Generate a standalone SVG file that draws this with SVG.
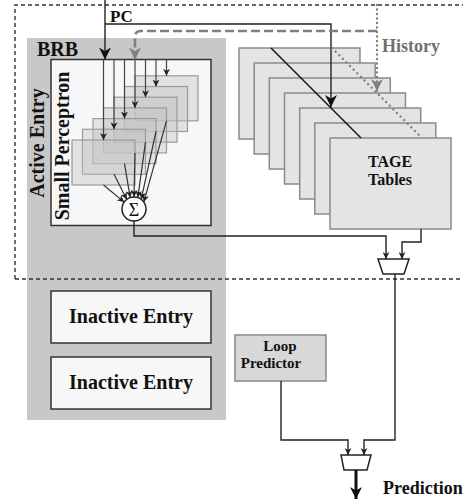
<svg xmlns="http://www.w3.org/2000/svg" width="463" height="500" viewBox="0 0 463 500">
  <style>
    .lbl { font-family: "Liberation Serif", "Times New Roman", serif; font-weight: bold; fill: #111; }
    .wire { fill: none; stroke: #222; stroke-width: 1.4; }
    .entry { fill: #f7f7f7; stroke: #333; stroke-width: 1.5; }
    .tage { fill: #e4e4e4; stroke: #8a8a8a; stroke-width: 1.5; }
    .perc { fill: #c4c4c4; fill-opacity: 0.4; stroke: #9a9a9a; stroke-width: 1.2; }
    .mux { fill: #fff; stroke: #222; stroke-width: 1.5; }
  </style>
  <defs>
    <marker id="ahBig" markerUnits="userSpaceOnUse" markerWidth="12" markerHeight="12" viewBox="0 0 12 12" refX="12" refY="6" orient="auto">
      <path d="M0,0 L12,6 L0,12 L3.5,6 z" fill="#111"/>
    </marker>
    <marker id="ahGray" markerUnits="userSpaceOnUse" markerWidth="12" markerHeight="12" viewBox="0 0 12 12" refX="12" refY="6" orient="auto">
      <path d="M0,0 L12,6 L0,12 L3.5,6 z" fill="#808080"/>
    </marker>
    <marker id="ahSmall" markerUnits="userSpaceOnUse" markerWidth="7" markerHeight="7" viewBox="0 0 7 7" refX="7" refY="3.5" orient="auto">
      <path d="M0,0 L7,3.5 L0,7 L2,3.5 z" fill="#222"/>
    </marker>
  </defs>

  <!-- branch result buffer background -->
  <g id="brb">
    <rect x="27" y="38" width="199" height="382" fill="#c8c8c8"/>
    <text class="lbl" x="37" y="56" font-size="20">BRB</text>
  </g>

  <!-- active entry: small perceptron -->
  <g id="active-entry">
    <rect class="entry" x="51" y="59.5" width="160" height="166"/>
    <text class="lbl" font-size="20" text-anchor="middle" transform="translate(44,143) rotate(-90)">Active Entry</text>
    <text class="lbl" font-size="20" text-anchor="middle" transform="translate(69,146) rotate(-90)">Small Perceptron</text>
  </g>

  <g id="perceptron-weights">
    <rect class="perc" x="135" y="75.8" width="63" height="45"/>
    <rect class="perc" x="124.5" y="86.5" width="63" height="45"/>
    <rect class="perc" x="114" y="97.2" width="63" height="45"/>
    <rect class="perc" x="103.5" y="107.9" width="63" height="45"/>
    <rect class="perc" x="93" y="118.6" width="63" height="45"/>
    <rect class="perc" x="82.5" y="129.3" width="63" height="45"/>
    <rect class="perc" x="72" y="140" width="63" height="45"/>
  </g>

  <g id="sum">
    <circle cx="134" cy="209" r="12" fill="#fff" stroke="#222" stroke-width="1.5"/>
    <text x="134" y="215.5" font-family="Liberation Serif, serif" font-size="18" text-anchor="middle" fill="#111">Σ</text>
  </g>

  <!-- TAGE tables -->
  <g id="tage">
    <rect class="tage" x="239" y="48" width="121" height="91"/>
    <rect class="tage" x="254.2" y="63" width="121" height="91"/>
    <rect class="tage" x="269.3" y="78" width="121" height="91"/>
    <rect class="tage" x="284.5" y="93" width="121" height="91"/>
    <rect class="tage" x="299.7" y="108" width="121" height="91"/>
    <rect class="tage" x="314.8" y="123" width="121" height="91"/>
    <rect class="tage" x="330" y="138" width="121" height="91"/>
    <text class="lbl" font-size="16" text-anchor="middle" x="390" y="167">TAGE</text>
    <text class="lbl" font-size="16" text-anchor="middle" x="390" y="185">Tables</text>
  </g>

  <g id="inactive-1">
    <rect class="entry" x="51" y="291" width="160" height="52"/>
    <text class="lbl" font-size="20" text-anchor="middle" x="131" y="323">Inactive Entry</text>
  </g>
  <g id="inactive-2">
    <rect class="entry" x="51" y="357" width="160" height="52"/>
    <text class="lbl" font-size="20" text-anchor="middle" x="131" y="389">Inactive Entry</text>
  </g>

  <g id="loop-predictor">
    <rect x="235" y="335" width="91" height="46" fill="#d8d8d8" stroke="#888" stroke-width="1.5"/>
    <text class="lbl" font-size="15" text-anchor="middle" x="280" y="351">Loop</text>
    <text class="lbl" font-size="15" text-anchor="middle" x="271" y="368">Predictor</text>
  </g>

  <g id="mux-tage">
    <polygon class="mux" points="378,259 409,259 404,274 383,274"/>
  </g>
  <g id="mux-final">
    <polygon class="mux" points="341,455 371,455 367,470 344,470"/>
  </g>

  <!-- prediction scope border -->
  <path d="M15,279 V5 H463 M15,279 H463" fill="none" stroke="#333" stroke-width="1.4" stroke-dasharray="4 3"/>

  <g id="connectors">
    <!-- PC -->
    <path class="wire" d="M105,0 V59.5" marker-end="url(#ahBig)"/>
    <path class="wire" d="M105,24 H331 V107" marker-end="url(#ahBig)"/>
    <text class="lbl" font-size="17" x="110" y="22">PC</text>

    <!-- global history -->
    <path d="M377,5 V91" fill="none" stroke="#808080" stroke-width="2.4" stroke-linecap="round" stroke-dasharray="0.1 4.4" marker-end="url(#ahGray)"/>
    <path d="M377,31 H141 Q135,31 135,37 V59.5" fill="none" stroke="#808080" stroke-width="2.6" stroke-dasharray="9 4" marker-end="url(#ahGray)"/>
    <text class="lbl" font-size="18" x="382" y="52" style="fill:#707070">History</text>

    <!-- table index hashes -->
    <path d="M271,48 L361,138" fill="none" stroke="#111" stroke-width="1.5"/>
    <path d="M332,48 L422,138" fill="none" stroke="#808080" stroke-width="2.4" stroke-linecap="round" stroke-dasharray="0.1 5"/>

    <!-- weight reads -->
    <g stroke="#444" stroke-width="1.2" fill="none" marker-end="url(#ahSmall)">
      <path d="M103.5,59.5 V140"/>
      <path d="M114,59.5 V129.3"/>
      <path d="M124.5,59.5 V118.6"/>
      <path d="M135,59.5 V107.9"/>
      <path d="M145.5,59.5 V97.2"/>
      <path d="M156,59.5 V86.5"/>
      <path d="M166.5,59.5 V75.8"/>
    </g>

    <!-- weights into adder -->
    <g stroke="#333" stroke-width="1.2" fill="none" marker-end="url(#ahSmall)">
      <path d="M103.5,185 L124.2,202.1"/>
      <path d="M114,174.3 L126.8,199.4"/>
      <path d="M124.5,163.6 L130.2,197.6"/>
      <path d="M135,152.9 L134,197"/>
      <path d="M145.5,142.2 L137.8,197.6"/>
      <path d="M156,131.5 L141.2,199.4"/>
      <path d="M166.5,120.8 L143.8,202.1"/>
    </g>

    <!-- into TAGE mux -->
    <path class="wire" d="M134,221 V236 H386 V259" marker-end="url(#ahSmall)"/>
    <path class="wire" d="M421,229 V242 H402 V259" marker-end="url(#ahSmall)"/>

    <!-- into final mux -->
    <path class="wire" d="M395,274 V440 H364 V455" marker-end="url(#ahSmall)"/>
    <path class="wire" d="M281,381 V440 H348 V455" marker-end="url(#ahSmall)"/>

    <!-- output -->
    <path d="M356,470 V499" fill="none" stroke="#111" stroke-width="3" marker-end="url(#ahBig)"/>
    <text class="lbl" font-size="18" x="383" y="494">Prediction</text>
  </g>
</svg>
